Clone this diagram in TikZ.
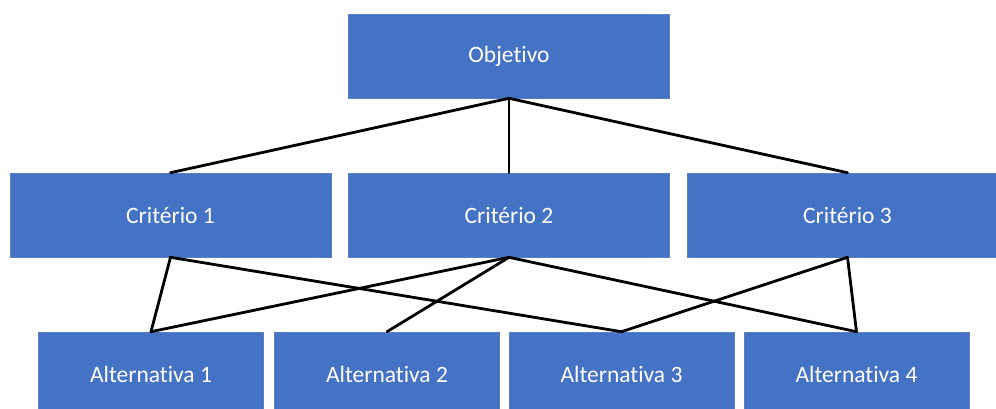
\documentclass[tikz,border=0pt]{standalone}
\usepackage{fontspec}
\setmainfont{Carlito}[Ligatures={NoCommon}]
\definecolor{boxblue}{HTML}{4472C4}
\definecolor{boxedge}{HTML}{5B7FC4}
\begin{document}
\begin{tikzpicture}[x=1pt,y=-1pt,
  hbox/.style={draw=boxedge,line width=0.6pt,fill=boxblue,text=white,inner sep=0pt,
    font=\fontsize{23.5}{27}\selectfont,minimum height=84pt},
  wide/.style={hbox,minimum width=321pt},
  alt/.style={hbox,minimum width=225pt},
  link/.style={line width=2.8pt,black,line cap=round,line join=round}]
\useasboundingbox (0,0) rectangle (996,408);
\clip (0,0) rectangle (996,408);
\node[wide] (obj) at (509,56) {Objetivo};
\node[wide] (c1) at (170.5,215) {Critério 1};
\node[wide] (c2) at (509,215) {Critério 2};
\node[wide] (c3) at (847.5,215) {Critério 3};
\node[alt] (a1) at (151,374) {Alternativa 1};
\node[alt] (a2) at (387,374) {Alternativa 2};
\node[alt] (a3) at (621.5,374) {Alternativa 3};
\node[alt] (a4) at (856.5,374) {Alternativa 4};
\draw[link] (obj.south) -- (c1.north);
\draw[link] (obj.south) -- (c2.north);
\draw[link] (obj.south) -- (c3.north);
\draw[link] (c1.south) -- (a1.north);
\draw[link] (c1.south) -- (a3.north);
\draw[link] (c2.south) -- (a1.north);
\draw[link] (c2.south) -- (a2.north);
\draw[link] (c2.south) -- (a4.north);
\draw[link] (c3.south) -- (a3.north);
\draw[link] (c3.south) -- (a4.north);
\end{tikzpicture}
\end{document}
